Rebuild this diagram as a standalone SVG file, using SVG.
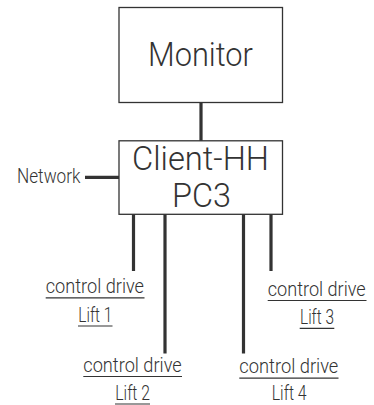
<svg xmlns="http://www.w3.org/2000/svg" width="374" height="405" viewBox="0 0 374 405">
<style>
.box{fill:#fff;stroke:#333;stroke-width:1.3}
.t{font-family:Roboto,"Liberation Sans",Arial,sans-serif;font-weight:300;fill:#333}
.big{font-size:34px;text-anchor:middle}
.lab{font-size:20.5px}
.conn{stroke:#333;stroke-width:3.2;fill:none}
.ul{stroke:#333;stroke-width:1.2}
</style>
<rect width="374" height="405" fill="#fff"/>
<g id="connectors">
<line class="conn" x1="201" y1="103" x2="201" y2="141"/>
<line class="conn" x1="85" y1="177.3" x2="120" y2="177.3"/>
<line class="conn" x1="133.5" y1="214" x2="133.5" y2="271"/>
<line class="conn" x1="165" y1="214" x2="165" y2="353.5"/>
<line class="conn" x1="243.5" y1="214" x2="243.5" y2="353.5"/>
<line class="conn" x1="271" y1="214" x2="271" y2="271"/>
</g>
<g id="monitor">
<rect class="box" x="119" y="7.5" width="163.5" height="95"/>
<text class="t big" x="200.5" y="65.7" textLength="105" lengthAdjust="spacingAndGlyphs">Monitor</text>
</g>
<g id="client">
<rect class="box" x="119" y="140.8" width="163.5" height="73.5"/>
<text class="t big" x="200.5" y="170" font-size="31" textLength="137" lengthAdjust="spacingAndGlyphs">Client-HH</text>
<text class="t big" x="201.5" y="207.3" font-size="30" textLength="59" lengthAdjust="spacingAndGlyphs">PC3</text>
</g>
<g id="network">
<text class="t" x="17" y="183.3" font-size="20.5" textLength="63.5" lengthAdjust="spacingAndGlyphs">Network</text>
</g>
<g id="lift1">
<text class="t lab" x="45.7" y="293.3" textLength="98.3" lengthAdjust="spacingAndGlyphs">control drive</text>
<line class="ul" x1="45.7" y1="297.8" x2="144.5" y2="297.8"/>
<text class="t lab" x="78.3" y="321.8" textLength="34" lengthAdjust="spacingAndGlyphs">Lift 1</text>
<line class="ul" x1="78" y1="326" x2="112.5" y2="326"/>
</g>
<g id="lift3">
<text class="t" font-size="18.2" transform="translate(267.7 296) scale(1 1.13)" x="0" y="0" textLength="98" lengthAdjust="spacingAndGlyphs">control drive</text>
<line class="ul" x1="267.7" y1="300.5" x2="366.5" y2="300.5"/>
<text class="t lab" x="300" y="323.8" textLength="34" lengthAdjust="spacingAndGlyphs">Lift 3</text>
<line class="ul" x1="299.7" y1="328.3" x2="334.3" y2="328.3"/>
</g>
<g id="lift2">
<text class="t lab" x="83.3" y="371.7" textLength="98.4" lengthAdjust="spacingAndGlyphs">control drive</text>
<line class="ul" x1="83.3" y1="376.5" x2="182" y2="376.5"/>
<text class="t lab" x="115.3" y="399.7" textLength="34.7" lengthAdjust="spacingAndGlyphs">Lift 2</text>
<line class="ul" x1="115" y1="404" x2="150" y2="404"/>
</g>
<g id="lift4">
<text class="t lab" x="239.3" y="373.3" textLength="99" lengthAdjust="spacingAndGlyphs">control drive</text>
<line class="ul" x1="239.3" y1="378.2" x2="338.5" y2="378.2"/>
<text class="t lab" x="271.7" y="399.7" textLength="35" lengthAdjust="spacingAndGlyphs">Lift 4</text>
</g>
</svg>
